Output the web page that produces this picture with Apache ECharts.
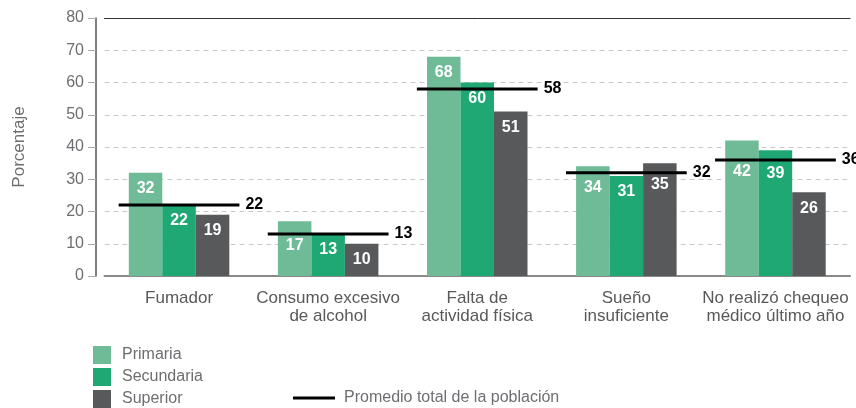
<!DOCTYPE html>
<html>
<head>
<meta charset="utf-8">
<script src="https://cdn.jsdelivr.net/npm/echarts@6/dist/echarts.min.js"></script>
<style>
  html, body { margin: 0; padding: 0; background: #fff; }
  #chart { width: 856px; height: 408px; }
</style>
</head>
<body>
<div id="chart"></div>
<script>
const categories = [
  "Fumador",
  "Consumo excesivo\nde alcohol",
  "Falta de\nactividad física",
  "Sueño\ninsuficiente",
  "No realizó chequeo\nmédico último año"
];
const primaria = [32, 17, 68, 34, 42];
const secundaria = [22, 13, 60, 31, 39];
const superior = [19, 10, 51, 35, 26];
const promedio = [22, 13, 58, 32, 36];
const yTicks = [0, 10, 20, 30, 40, 50, 60, 70, 80];

const font = "Liberation Sans, Arial, Helvetica, sans-serif";

// labels pushed down below the average line (px from bar top)
const labelDist = {
  Primaria: { 1: 16, 3: 13, 4: 23 },
  Secundaria: { 4: 15 },
  Superior: { 3: 13 }
};

function barSeries(name, values, color) {
  return {
    name: name,
    type: "bar",
    barWidth: 33.5,
    barGap: "0%",
    itemStyle: { color: color },
    label: {
      show: true,
      position: "insideTop",
      distance: 8,
      color: "#fff",
      fontWeight: "bold",
      fontSize: 16,
      fontFamily: font
    },
    data: values.map((v, i) => {
      const d = labelDist[name] && labelDist[name][i];
      return d ? { value: v, label: { distance: d } } : v;
    })
  };
}

const option = {
  animation: false,
  textStyle: { fontFamily: font },
  grid: { left: 104.5, right: 6, top: 18, height: 258 },
  legend: [
    {
      data: ["Primaria", "Secundaria", "Superior"],
      orient: "vertical",
      left: 93,
      top: 346,
      height: 62,
      padding: 0,
      itemWidth: 18,
      itemHeight: 18,
      itemGap: 4,
      icon: "rect",
      textStyle: { color: "#6d6e71", fontSize: 16, fontFamily: font, padding: [0, 0, 0, 6] }
    },
    {
      data: ["Promedio total de la población"],
      left: 293,
      top: 390,
      padding: 0,
      itemWidth: 42,
      itemHeight: 3,
      icon: "rect",
      textStyle: { color: "#6d6e71", fontSize: 16, fontFamily: font, padding: [0, 0, 0, 4] }
    }
  ],
  xAxis: [
    {
      type: "category",
      data: categories,
      axisLine: { lineStyle: { color: "#8a8a8a", width: 2 } },
      axisTick: { show: false },
      axisLabel: { interval: 0, color: "#58595b", fontSize: 17, lineHeight: 18, margin: 13, fontFamily: font }
    },
    {
      type: "category",
      position: "top",
      data: categories,
      axisLine: { lineStyle: { color: "#333", width: 1 } },
      axisTick: { show: false },
      axisLabel: { show: false }
    }
  ],
  yAxis: {
    type: "value",
    min: yTicks[0],
    max: yTicks[yTicks.length - 1],
    interval: 10,
    offset: 8.5,
    name: "Porcentaje",
    nameLocation: "middle",
    nameGap: 68,
    nameTextStyle: { color: "#6d6e71", fontSize: 17, fontFamily: font },
    axisLine: { show: true, lineStyle: { color: "#555", width: 1.5 } },
    axisTick: { show: true, length: 8, lineStyle: { color: "#aaa" } },
    axisLabel: { color: "#6d6e71", fontSize: 16, margin: 12, fontFamily: font },
    splitLine: { lineStyle: { color: "#c8c8c8", type: [5, 4] } }
  },
  series: [
    barSeries("Primaria", primaria, "#70bb97"),
    barSeries("Secundaria", secundaria, "#1fa874"),
    barSeries("Superior", superior, "#58595b"),
    {
      name: "Promedio total de la población",
      type: "custom",
      itemStyle: { color: "#000" },
      z: 5,
      data: promedio.map((v, i) => [i, v]),
      renderItem: function (params, api) {
        const p = api.coord([api.value(0), api.value(1)]);
        const half = api.size([1, 0])[0] * 0.405;
        return {
          type: "group",
          children: [
            {
              type: "line",
              shape: { x1: p[0] - half, y1: p[1], x2: p[0] + half, y2: p[1] },
              style: { stroke: "#000", lineWidth: 3 }
            },
            {
              type: "text",
              x: p[0] + half + 6,
              y: p[1],
              style: {
                text: String(api.value(1)),
                fill: "#000",
                font: "bold 16px " + font,
                verticalAlign: "middle"
              }
            }
          ]
        };
      }
    }
  ]
};

const chart = echarts.init(document.getElementById("chart"));
chart.setOption(option);
</script>
</body>
</html>
